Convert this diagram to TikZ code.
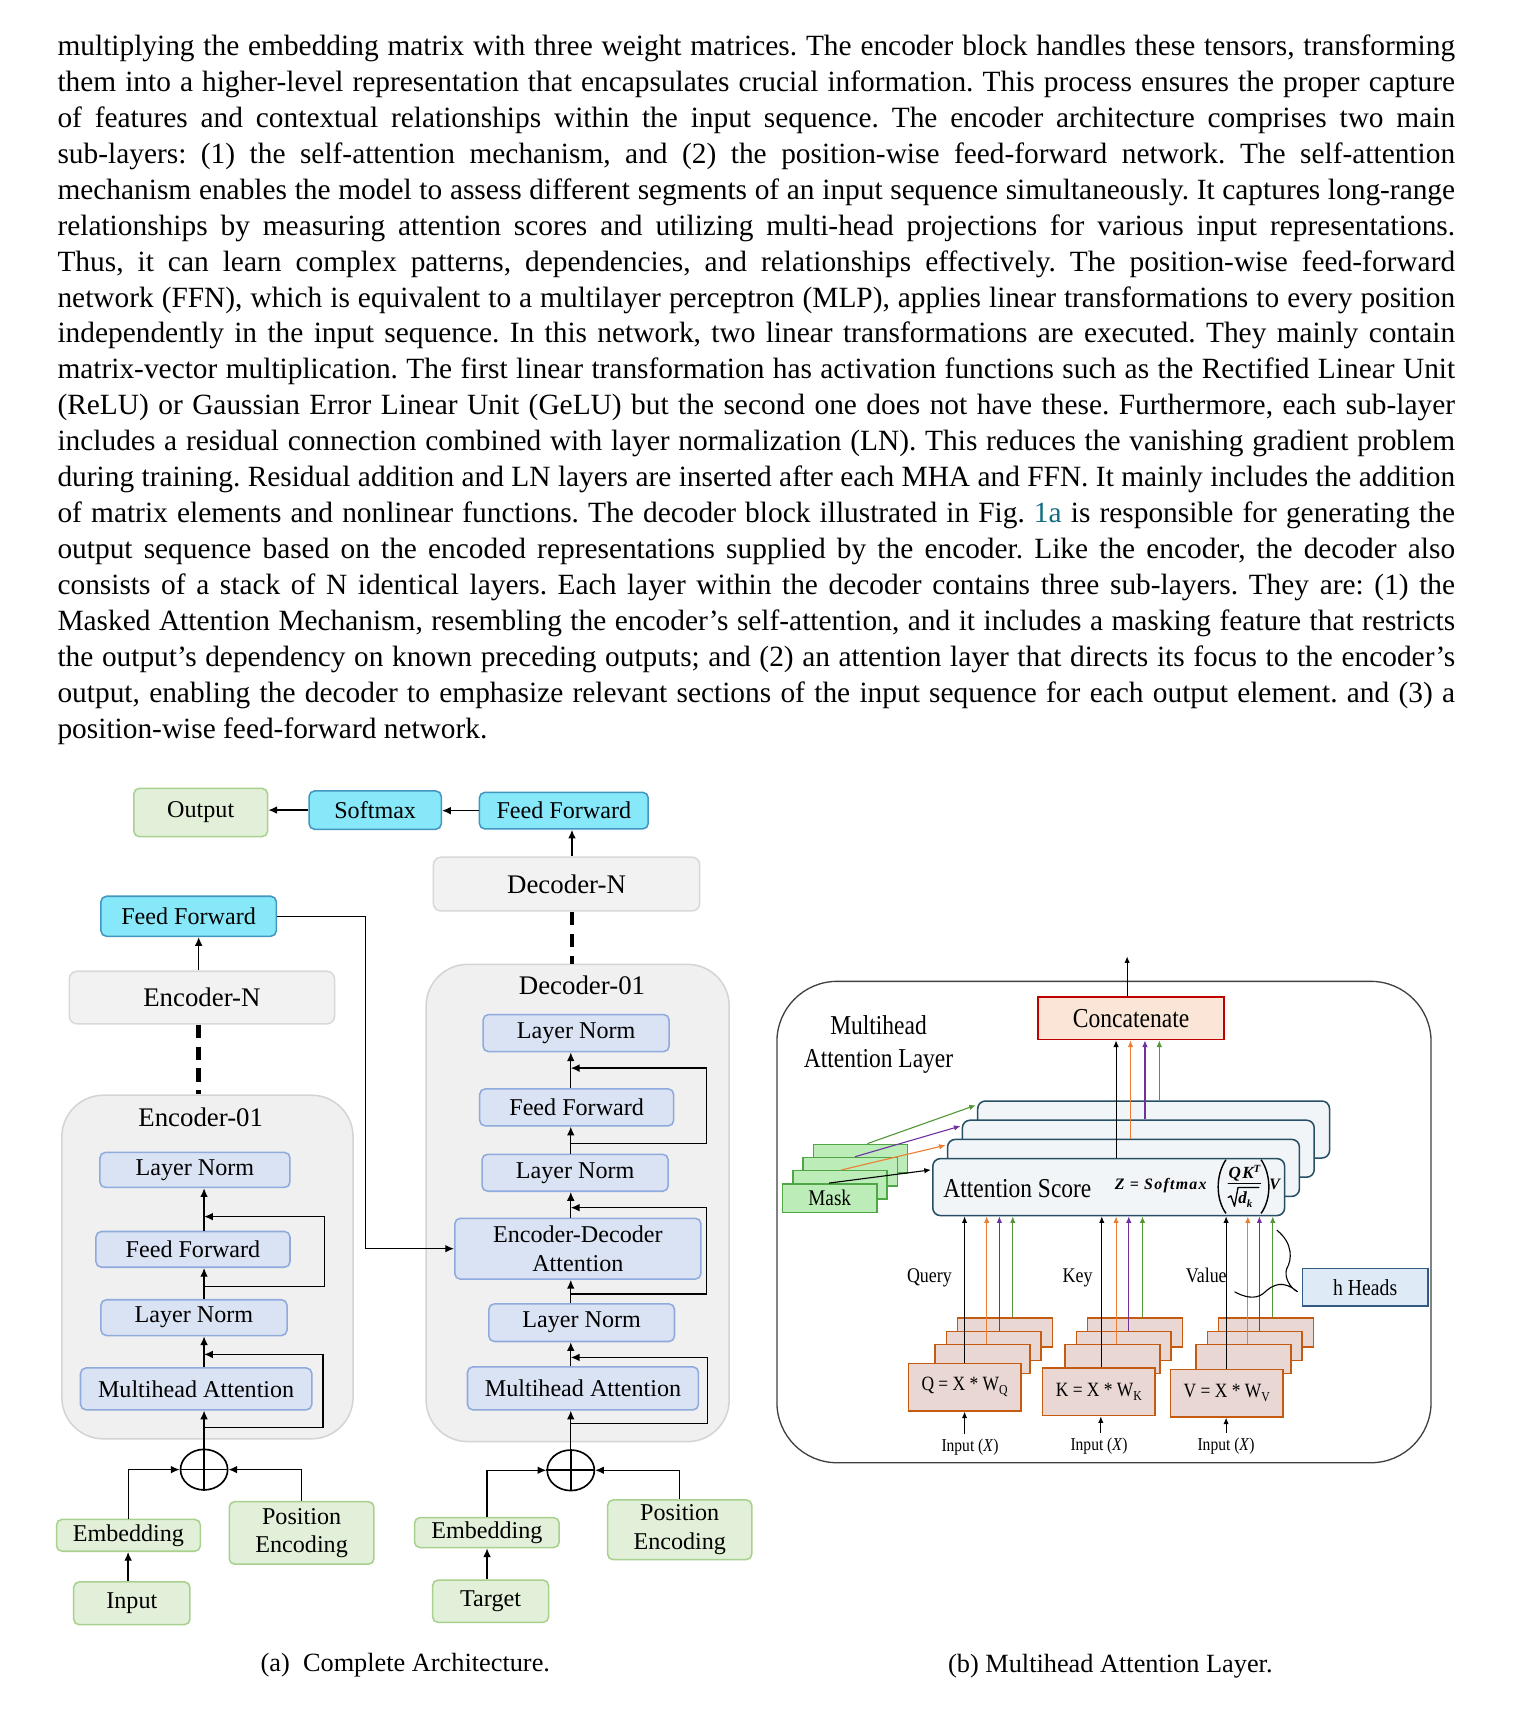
\documentclass[tikz,border=0pt]{standalone}
\usepackage{fontspec}
\setmainfont{Liberation Serif}
\newfontfamily\condfont[FakeStretch=0.86]{Liberation Serif}
\newfontfamily\frmfam[LetterSpace=8]{Liberation Serif}
\usetikzlibrary{arrows.meta,shapes.geometric,calc}
\definecolor{cyF}{RGB}{134,232,248}
\definecolor{cyB}{RGB}{66,150,192}
\definecolor{grF}{RGB}{226,240,217}
\definecolor{grB}{RGB}{169,209,142}
\definecolor{gyF}{RGB}{242,242,242}
\definecolor{gyB}{RGB}{217,217,217}
\definecolor{lvF}{RGB}{218,227,243}
\definecolor{lvB}{RGB}{143,170,220}
\definecolor{ctF}{RGB}{240,240,240}
\definecolor{ctB}{RGB}{212,212,212}
\definecolor{mkF}{RGB}{188,237,184}
\definecolor{mkB}{RGB}{80,166,70}
\definecolor{qkF}{RGB}{233,215,211}
\definecolor{qkB}{RGB}{197,90,17}
\definecolor{ccF}{RGB}{251,229,214}
\definecolor{ccB}{RGB}{192,0,0}
\definecolor{atF}{RGB}{242,245,248}
\definecolor{atB}{RGB}{38,78,100}
\definecolor{hhF}{RGB}{222,235,247}
\definecolor{hhB}{RGB}{50,90,130}
\definecolor{olB}{RGB}{64,64,64}
\definecolor{orA}{RGB}{237,125,49}
\definecolor{puA}{RGB}{112,48,160}
\definecolor{gnA}{RGB}{84,150,53}
\definecolor{linkc}{RGB}{20,110,130}
\newcommand\bodyfont{\fontsize{26.8}{32.8}\selectfont\frenchspacing\spaceskip=0.25em plus 0.4em minus 0.14em\relax}
\newcommand\figA{\fontsize{22}{26}\selectfont}
\newcommand\figB{\fontsize{24.5}{28}\selectfont}
\newcommand\capfont{\fontsize{24}{28}\selectfont}
\newcommand\frmfont{\frmfam\bfseries\itshape\fontsize{14.5}{16}\selectfont}
\newcommand\frmsmall{\frmfam\bfseries\itshape\fontsize{10}{12}\selectfont}
\newcommand\parline[2]{\node[anchor=base west, inner sep=0pt, font=\bodyfont] (L#1) at (52.3,{50.5+32.8*(#1-1)}) {\hbox to 1275pt{#2}};}
\newcommand\lastparline[2]{\node[anchor=base west, inner sep=0pt, font=\bodyfont] (L#1) at (52.3,{50.5+32.8*(#1-1)}) {#2};}
\begin{document}
\begin{tikzpicture}[x=1pt,y=-1pt,
  box/.style={draw, line width=1.4pt, rounded corners=5pt, inner sep=0pt, align=center, font=\figA, text=black},
  gbox/.style={box, draw=grB, fill=grF},
  cbox/.style={box, draw=cyB, fill=cyF},
  ybox/.style={box, draw=gyB, fill=gyF, font=\figB, rounded corners=7pt},
  lbox/.style={box, draw=lvB, fill=lvF},
  cont/.style={draw=ctB, fill=ctF, line width=1.4pt, rounded corners=38pt, inner sep=0pt},
  arw/.style={line width=1.2pt, -{Latex[length=8pt,width=7pt]}},
  thinarw/.style={line width=1pt, -{Latex[length=6pt,width=5pt]}},
  dashln/.style={line width=4.5pt, dash pattern=on 12pt off 8pt},
  plusnode/.style={draw, ellipse, line width=1.5pt, inner sep=0pt, minimum width=43pt, minimum height=37pt},
  attbox/.style={draw=atB, fill=atF, line width=1.4pt, rounded corners=7pt, minimum width=321pt, minimum height=52pt, inner sep=0pt},
  maskbox/.style={draw=mkB, fill=mkF, line width=1.3pt, minimum width=86pt, minimum height=26pt, inner sep=0pt, font=\condfont\fontsize{20.4}{24}\selectfont},
  qback/.style={draw=qkB, fill=qkF, line width=1.4pt, minimum width=86.5pt, minimum height=26.5pt, inner sep=0pt},
  qfront/.style={qback, minimum width=102.5pt, minimum height=43.3pt, font=\condfont\fontsize{18.5}{22}\selectfont},
  lbl/.style={inner sep=0pt, font=\condfont\fontsize{19}{22}\selectfont},
  inlbl/.style={inner xsep=0pt, inner ysep=4pt, font=\condfont\fontsize{16.5}{20}\selectfont},
  frm/.style={inner sep=0pt, font=\frmfont},
  frmline/.style={line width=1.2pt, line cap=round, line join=round}
]
\fill[white] (0,0) rectangle (1384,1561);
\path[use as bounding box] (0,0) rectangle (1384,1561);

% ---------------- paragraph ----------------
\parline{1}{multiplying the embedding matrix with three weight matrices. The encoder block handles these tensors, transforming}
\parline{2}{them into a higher-level representation that encapsulates crucial information. This process ensures the proper capture}
\parline{3}{of features and contextual relationships within the input sequence. The encoder architecture comprises two main}
\parline{4}{sub-layers: (1) the self-attention mechanism, and (2) the position-wise feed-forward network. The self-attention}
\parline{5}{mechanism enables the model to assess different segments of an input sequence simultaneously. It captures long-range}
\parline{6}{relationships by measuring attention scores and utilizing multi-head projections for various input representations.}
\parline{7}{Thus, it can learn complex patterns, dependencies, and relationships effectively. The position-wise feed-forward}
\parline{8}{network (FFN), which is equivalent to a multilayer perceptron (MLP), applies linear transformations to every position}
\parline{9}{independently in the input sequence. In this network, two linear transformations are executed. They mainly contain}
\parline{10}{matrix-vector multiplication. The first linear transformation has activation functions such as the Rectified Linear Unit}
\parline{11}{(ReLU) or Gaussian Error Linear Unit (GeLU) but the second one does not have these. Furthermore, each sub-layer}
\parline{12}{includes a residual connection combined with layer normalization (LN). This reduces the vanishing gradient problem}
\parline{13}{during training. Residual addition and LN layers are inserted after each MHA and FFN. It mainly includes the addition}
\parline{14}{of matrix elements and nonlinear functions. The decoder block illustrated in Fig. \textcolor{linkc}{1a} is responsible for generating the}
\parline{15}{output sequence based on the encoded representations supplied by the encoder. Like the encoder, the decoder also}
\parline{16}{consists of a stack of N identical layers. Each layer within the decoder contains three sub-layers. They are: (1) the}
\parline{17}{Masked Attention Mechanism, resembling the encoder’s self-attention, and it includes a masking feature that restricts}
\parline{18}{the output’s dependency on known preceding outputs; and (2) an attention layer that directs its focus to the encoder’s}
\parline{19}{output, enabling the decoder to emphasize relevant sections of the input sequence for each output element. and (3) a}
\lastparline{20}{position-wise feed-forward network.}

% ---------------- (a) ----------------
\begin{scope}[shift={(0,711.68)}, yscale=0.9954, xscale=0.99303, shift={(0,-711.68)}]
\node[cont, minimum width=265.7pt, minimum height=313.5pt] (enc01) at (190.6,1158) {};
\node[cont, minimum width=276.5pt, minimum height=435.4pt] (dec01) at (530.7,1099.3) {};

\node[gbox, minimum width=122pt, minimum height=44pt] (out) at (184.4,741.4) {Output};
\node[cbox, minimum width=120.6pt, minimum height=35pt] (soft) at (344.7,739.2) {Softmax};
\node[cbox, minimum width=154pt, minimum height=33.4pt] (ffd) at (518,739.7) {Feed Forward};
\node[ybox, minimum width=243pt, minimum height=49pt] (decN) at (520.5,807) {Decoder-N};
\node[cbox, minimum width=160pt, minimum height=36.5pt] (ffe) at (173.3,836.5) {Feed Forward};
\node[ybox, minimum width=242pt, minimum height=48pt] (encN) at (185.5,911) {Encoder-N};

\node[font=\figB, inner sep=0pt] (enc01t) at (184.4,1020.4) {Encoder-01};
\node[lbox, minimum width=173.4pt, minimum height=32pt] (ln2e) at (179.1,1069) {Layer Norm};
\node[lbox, minimum width=177pt, minimum height=32.6pt] (ffe1) at (177.3,1141.8) {Feed Forward};
\node[lbox, minimum width=169.8pt, minimum height=32.7pt] (ln1e) at (178.2,1204.4) {Layer Norm};
\node[lbox, minimum width=211pt, minimum height=38.2pt] (mhae) at (180.2,1269.7) {Multihead Attention};
\node[plusnode] (oe) at (187.5,1343.7) {};
\node[gbox, minimum width=131.2pt, minimum height=29pt] (embE) at (118,1403.9) {Embedding};
\node[gbox, minimum width=132pt, minimum height=57pt] (posE) at (277.1,1401.7) {Position\\Encoding};
\node[gbox, minimum width=106pt, minimum height=39pt] (inE) at (121.1,1466.2) {Input};

\node[font=\figB, inner sep=0pt] (dec01t) at (534.7,899.5) {Decoder-01};
\node[lbox, minimum width=169.8pt, minimum height=33.8pt] (ln3d) at (529.3,943.6) {Layer Norm};
\node[lbox, minimum width=176.9pt, minimum height=33.8pt] (ffd1) at (529.8,1011.7) {Feed Forward};
\node[lbox, minimum width=169.8pt, minimum height=33.7pt] (ln2d) at (528.4,1071.6) {Layer Norm};
\node[lbox, minimum width=224.5pt, minimum height=55.5pt] (edad) at (530.9,1141.2) {Encoder-Decoder\\Attention};
\node[lbox, minimum width=169.4pt, minimum height=34.3pt] (ln1d) at (534.4,1209) {Layer Norm};
\node[lbox, minimum width=210.7pt, minimum height=39.3pt] (mhad) at (535.6,1269.2) {Multihead Attention};
\node[plusnode] (od) at (524.4,1344.3) {};
\node[gbox, minimum width=132pt, minimum height=27.3pt] (embD) at (447.3,1401.4) {Embedding};
\node[gbox, minimum width=131.5pt, minimum height=54.5pt] (posD) at (624.5,1398.8) {Position\\Encoding};
\node[gbox, minimum width=105.8pt, minimum height=38.6pt] (tgtD) at (450.7,1464.3) {Target};

\draw[line width=1.5pt] (oe.north) -- (oe.south) (oe.west) -- (oe.east);
\draw[line width=1.5pt] (od.north) -- (od.south) (od.west) -- (od.east);

% top row
\draw[arw] (soft.west) -- (soft.west -| out.east);
\draw[arw] (ffd.west) -- (ffd.west -| soft.east);
\coordinate (dtx) at (525.5,0);
\draw[arw] (dtx |- decN.north) -- (dtx |- ffd.south);
\draw[dashln] (dtx |- decN.south) -- (dtx |- dec01.north);
\coordinate (etx) at (182.5,0);
\draw[arw] (etx |- encN.north) -- (etx |- ffe.south);
\draw[dashln] (etx |- encN.south) -- (etx |- enc01.north);
\coordinate (bend) at (335.6,836.9);
\draw[arw] (ffe.east) -- (bend |- ffe.east) |- (edad.west);

% encoder stack
\coordinate (ex) at (187.5,0);
\draw[arw] (ex |- oe.north) -- (ex |- mhae.south);
\draw[arw] (ex |- mhae.north) -- (ex |- ln1e.south);
\draw[arw] (ex |- ln1e.north) -- (ex |- ffe1.south);
\draw[arw] (ex |- ffe1.north) -- (ex |- ln2e.south);
\coordinate (eA1) at (187.5,1305.1); \coordinate (eA2) at (296.9,1238.1);
\draw[arw] (eA1) -| (eA2) -- (ex |- eA2);
\coordinate (eB1) at (187.5,1175.6); \coordinate (eB2) at (298.3,1111.8);
\draw[arw] (eB1) -| (eB2) -- (ex |- eB2);
\draw[arw] (embE.north) |- (oe.west);
\draw[arw] (posE.north) |- (oe.east);
\coordinate (ix) at (117.7,0);
\draw[arw] (ix |- inE.north) -- (ix |- embE.south);

% decoder stack
\coordinate (dx) at (524.4,0);
\draw[arw] (dx |- od.north) -- (dx |- mhad.south);
\draw[arw] (dx |- mhad.north) -- (dx |- ln1d.south);
\draw[arw] (dx |- ln1d.north) -- (dx |- edad.south);
\draw[arw] (dx |- edad.north) -- (dx |- ln2d.south);
\draw[arw] (dx |- ln2d.north) -- (dx |- ffd1.south);
\draw[arw] (dx |- ffd1.north) -- (dx |- ln3d.south);
\coordinate (dA1) at (524.4,1301.3); \coordinate (dA2) at (649.8,1240.9);
\draw[arw] (dA1) -| (dA2) -- (dx |- dA2);
\coordinate (dB1) at (524.4,1182.6); \coordinate (dB2) at (648.9,1103.6);
\draw[arw] (dB1) -| (dB2) -- (dx |- dB2);
\coordinate (dC1) at (524.4,1044.9); \coordinate (dC2) at (648.9,975.7);
\draw[arw] (dC1) -| (dC2) -- (dx |- dC2);
\draw[arw] (embD.north) |- (od.west);
\draw[arw] (posD.north) |- (od.east);
\coordinate (tx) at (447.5,0);
\draw[arw] (tx |- tgtD.north) -- (tx |- embD.south);

\node[font=\capfont, inner sep=0pt] (capa) at (372.4,1522.9) {(a)\ \ Complete Architecture.};
\end{scope}

% ---------------- (b) ----------------
\node[draw=olB, line width=1.2pt, rounded corners=55pt, minimum width=596.8pt, minimum height=439.2pt, inner sep=0pt] (fb) at (1007.2,1114.9) {};
\node[font=\condfont\fontsize{24.9}{30}\selectfont, align=center, inner sep=0pt] (mhl) at (801.5,953) {Multihead\\Attention Layer};
\node[draw=ccB, fill=ccF, line width=1.6pt, minimum width=169.8pt, minimum height=39pt, font=\condfont\fontsize{25}{28}\selectfont, inner sep=0pt] (cc) at (1032,928.9) {Concatenate};
\coordinate (ccout) at (1028.3,872.5);
\draw[thinarw] (ccout |- cc.north) -- (ccout);

\node[attbox] (att4) at (1052.5,1030.5) {};
\node[attbox] (att3) at (1038.5,1048) {};
\node[attbox] (att2) at (1025,1065.5) {};
\node[attbox] (att1) at (1011.5,1083) {};
\node[font=\condfont\fontsize{24.9}{28}\selectfont, inner sep=0pt] (ascore) at (928.2,1084.6) {Attention Score};

% formula Z = Softmax (QK^T / sqrt(d_k)) V
\node[frm, anchor=base west] (fz) at (1017,1085.3) {Z = Softmax};
\node[frm, anchor=base west, font=\frmfam\bfseries\itshape\fontsize{15.5}{17}\selectfont] (fnum) at (1120.8,1075.1) {QK\raisebox{5.5pt}{\frmsmall T}};
\node[frm, anchor=base west, font=\frmfam\bfseries\itshape\fontsize{15.5}{17}\selectfont] (fden) at (1129.5,1098) {d\raisebox{-3.5pt}{\frmsmall k}};
\node[frm, anchor=base west] (fv) at (1157.8,1085.3) {V};
\draw[frmline] (1120.6,1079.7) -- (1150,1079.7);
\draw[frmline] (1120.5,1092.5) -- (1123,1091) -- (1126.3,1100.5) -- (1129.5,1083.3) -- (1148.5,1083.3);
\draw[line width=1.3pt] (1118.5,1058) .. controls (1109,1072) and (1109,1094) .. (1118.5,1107);
\draw[line width=1.3pt] (1150.5,1058) .. controls (1160,1072) and (1160,1094) .. (1150.5,1107);

\coordinate (cxk) at (1018.2,0); \coordinate (cxo) at (1031.4,0);
\coordinate (cxp) at (1044.6,0); \coordinate (cxg) at (1057.7,0);
\draw[thinarw, black] (cxk |- att1.north) -- (cxk |- cc.south);
\draw[thinarw, orA] (cxo |- att2.north) -- (cxo |- cc.south);
\draw[thinarw, puA] (cxp |- att3.north) -- (cxp |- cc.south);
\draw[thinarw, gnA] (cxg |- att4.north) -- (cxg |- cc.south);

\node[maskbox] (mask4) at (785,1057) {};
\node[maskbox] (mask3) at (775.6,1069) {};
\node[maskbox] (mask2) at (766.3,1081) {};
\node[maskbox] (mask1) at (757,1093) {Mask};
\draw[thinarw, black] ($(mask1.north west)+(43,0)$) -- ($(att1.north west)+(-1,11)$);
\draw[thinarw, orA] ($(mask2.north west)+(45,0)$) -- ($(att2.north west)+(-1,6)$);
\draw[thinarw, puA] ($(mask3.north west)+(48,0)$) -- ($(att3.north west)+(-1,6)$);
\draw[thinarw, gnA] ($(mask4.north west)+(50,0)$) -- ($(att4.north west)+(-1,4.5)$);

% Q K V stacks
\node[qback] (q4) at (916.95,1215.85) {};
\node[qback] (q3) at (906.65,1227.85) {};
\node[qback] (q2) at (896.35,1239.85) {};
\node[qfront] (q1) at (880.05,1265.5) {Q = X * W\raisebox{-4pt}{\fontsize{12.5}{14}\selectfont Q}};
\node[qback] (k4) at (1035.55,1215.85) {};
\node[qback] (k3) at (1025.25,1227.85) {};
\node[qback] (k2) at (1014.95,1239.85) {};
\node[qfront] (k1) at (1002.55,1269.8) {K = X * W\raisebox{-4pt}{\fontsize{12.5}{14}\selectfont K}};
\node[qback] (v4) at (1155.05,1215.85) {};
\node[qback] (v3) at (1144.75,1227.85) {};
\node[qback] (v2) at (1134.45,1239.85) {};
\node[qfront] (v1) at (1119.2,1271) {V = X * W\raisebox{-4pt}{\fontsize{12.5}{14}\selectfont V}};

\coordinate (qa) at (880,0); \coordinate (qb) at (900.2,0); \coordinate (qc) at (911.8,0); \coordinate (qd) at (924,0);
\coordinate (ka) at (1005.2,0); \coordinate (kb) at (1018.2,0); \coordinate (kc) at (1029.8,0); \coordinate (kd) at (1042.3,0);
\coordinate (va) at (1118.6,0); \coordinate (vb) at (1138.4,0); \coordinate (vc) at (1149,0); \coordinate (vd) at (1161.2,0);
\draw[thinarw, black] (qa |- q1.north) -- (qa |- att1.south);
\draw[thinarw, orA] (qb |- q2.north) -- (qb |- att1.south);
\draw[thinarw, puA] (qc |- q3.north) -- (qc |- att1.south);
\draw[thinarw, gnA] (qd |- q4.north) -- (qd |- att1.south);
\draw[thinarw, black] (ka |- k1.north) -- (ka |- att1.south);
\draw[thinarw, orA] (kb |- k2.north) -- (kb |- att1.south);
\draw[thinarw, puA] (kc |- k3.north) -- (kc |- att1.south);
\draw[thinarw, gnA] (kd |- k4.north) -- (kd |- att1.south);
\draw[thinarw, black] (va |- v1.north) -- (va |- att1.south);
\draw[thinarw, orA] (vb |- v2.north) -- (vb |- att1.south);
\draw[thinarw, puA] (vc |- v3.north) -- (vc |- att1.south);
\draw[thinarw, gnA] (vd |- v4.north) -- (vd |- att1.south);

\node[lbl] (lq) at (847.9,1165.5) {Query};
\node[lbl] (lk) at (983.1,1165.5) {Key};
\node[lbl] (lv) at (1100.5,1163.6) {Value};

\node[inlbl] (iq) at (885,1320) {Input (\textit{X})};
\node[inlbl] (ik) at (1002.7,1319) {Input (\textit{X})};
\node[inlbl] (iv) at (1118.6,1319) {Input (\textit{X})};
\coordinate (ika) at (1004.3,0);
\draw[thinarw] (qa |- iq.north) -- (qa |- q1.south);
\draw[thinarw] (ika |- ik.north) -- (ika |- k1.south);
\draw[thinarw] (va |- iv.north) -- (va |- v1.south);

\node[draw=hhB, fill=hhF, line width=1.4pt, minimum width=114.3pt, minimum height=34.4pt, inner sep=0pt, font=\condfont\fontsize{20.9}{24}\selectfont] (hh) at (1245.5,1174.4) {h Heads};
\draw[line width=1pt] (1164.9,1122.3) .. controls (1180.1,1134.5) and (1178.6,1149.6) .. (1174,1157.2) .. controls (1171,1164.8) and (1177.1,1175.4) .. (1183.8,1178.5) .. controls (1171,1167.9) and (1161.9,1170.9) .. (1152.7,1180) .. controls (1145.1,1186.1) and (1134.5,1183.1) .. (1126.3,1178.5);

\node[font=\capfont, inner sep=0pt] (capb) at (1013,1520) {(b) Multihead Attention Layer.};
\end{tikzpicture}
\end{document}
